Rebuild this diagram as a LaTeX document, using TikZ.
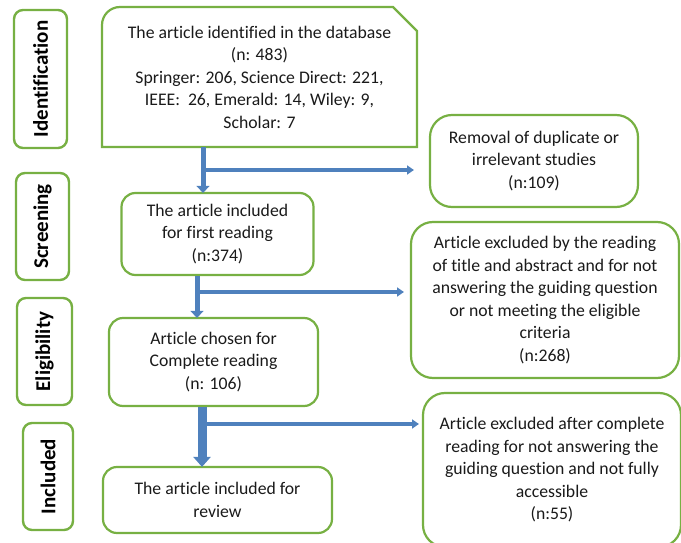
\documentclass[tikz,border=0pt]{standalone}
\usepackage{fontspec}
\setmainfont{Carlito}[Ligatures=NoCommon]
\usetikzlibrary{arrows.meta}
\definecolor{boxgreen}{HTML}{77B043}
\definecolor{arrowblue}{HTML}{4F81BD}
\definecolor{arrowdark}{HTML}{3A6597}
\definecolor{txt}{HTML}{1A1A1A}
\begin{document}
\begin{tikzpicture}[x=1pt,y=-1pt,
  phasebox/.style={draw=boxgreen,line width=2.4pt,rounded corners=9pt,fill=white},
  mainbox/.style={draw=boxgreen,line width=2.2pt,rounded corners=14pt,fill=white},
  sidebox/.style={draw=boxgreen,line width=2.2pt,rounded corners=22pt,fill=white},
  lbl/.style={text=txt,align=center,font=\fontsize{17.7}{22.5}\selectfont},
  phlbl/.style={text=black,rotate=90,font=\fontsize{21}{24}\selectfont\bfseries},
  varrow/.style={draw=arrowblue,line width=5pt,-{Triangle[width=13pt,length=7pt]}},
  harrow/.style={draw=arrowblue,line width=3.5pt,-{Triangle[width=9pt,length=7pt]}},
  bigvarrow/.style={draw=arrowblue,line width=9pt,-{Triangle[width=17pt,length=10pt]}}
]
\useasboundingbox (0,0) rectangle (681,543);

% phase labels
\draw[phasebox] (14,10) rectangle (67,148);
\node[phlbl] (pid) at (40.5,79) {Identification};
\draw[phasebox] (16,173) rectangle (69,280);
\node[phlbl] (psc) at (42.5,226.5) {Screening};
\draw[phasebox] (17,298) rectangle (72,405);
\node[phlbl] (pel) at (44.5,351.5) {Eligibility};
\draw[phasebox] (23,423) rectangle (73,530);
\node[phlbl] (pin) at (48,476.5) {Included};

% top box (round + snipped corner)
\draw[draw=boxgreen,line width=2.2pt,fill=white]
  (102,147) -- (102,25) arc(180:270:18) -- (393,7) -- (417,31) -- (417,147) -- cycle;
\node[lbl,minimum width=315pt,minimum height=140pt] (top) at (259.5,77)
  {The article identified in the database\\(n: 483)\\Springer: 206, Science Direct: 221,\\IEEE:~ 26, Emerald: 14, Wiley: 9,\\Scholar: 7};

% main column boxes
\node[mainbox,lbl,minimum width=192pt,minimum height=82pt] (first) at (217.5,234)
  {The article included\\for first reading\\(n:374)};
\node[mainbox,lbl,minimum width=209pt,minimum height=88pt] (chosen) at (213.5,362)
  {Article chosen for\\Complete reading\\(n: 106)};
\node[mainbox,lbl,minimum width=229pt,minimum height=66pt] (review) at (217.5,500)
  {The article included for\\review};

% side boxes
\node[sidebox,lbl,minimum width=208pt,minimum height=92pt] (removal) at (534,161)
  {Removal of duplicate or\\irrelevant studies\\(n:109)};
\node[sidebox,lbl,minimum width=268pt,minimum height=156pt] (excl1) at (545,300)
  {Article excluded by the reading\\of title and abstract and for not\\answering the guiding question\\or not meeting the eligible\\criteria\\(n:268)};
\node[sidebox,lbl,minimum width=258pt,minimum height=154pt] (excl2) at (552,470)
  {Article excluded after complete\\reading for not answering the\\guiding question and not fully\\accessible\\(n:55)};

% branch coordinates
\coordinate (c1) at (203,0);
\coordinate (b1) at (203,170);
\coordinate (e1) at (414,170);
\coordinate (c2) at (197,0);
\coordinate (b2) at (197,292);
\coordinate (e2) at (404,292);
\coordinate (c3) at (202,0);
\coordinate (b3) at (206,424);
\coordinate (e3) at (419,424);

% arrows
\draw[varrow] (top.south -| c1) -- ([yshift=-1pt]first.north -| c1);
\draw[harrow] ([xshift=-2pt]b1) -- (e1);
\draw[varrow] (first.south -| c2) -- ([yshift=-1pt]chosen.north -| c2);
\draw[harrow] ([xshift=-2pt]b2) -- (e2);
\draw[bigvarrow] (chosen.south -| c3) -- ([yshift=-1pt]review.north -| c3);
\draw[harrow] (b3) -- (e3);
\end{tikzpicture}
\end{document}
